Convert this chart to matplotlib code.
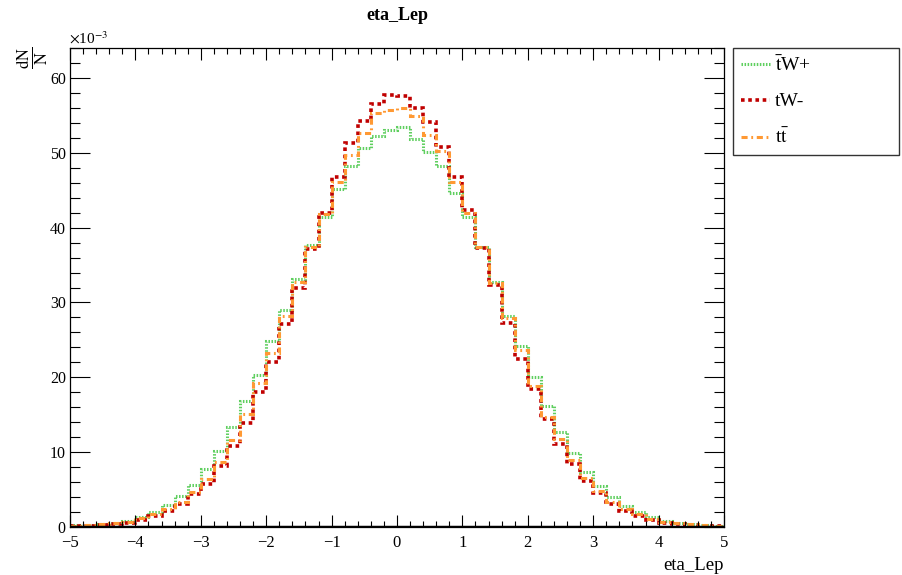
import numpy as np
import matplotlib.pyplot as plt
from matplotlib.ticker import MultipleLocator

plt.rcParams['font.family'] = ['Liberation Serif', 'DejaVu Serif']
plt.rcParams['mathtext.fontset'] = 'stix'

# bin edges of eta_Lep, 50 bins from -5 to 5
edges = np.linspace(-5, 5, 51)

# normalised bin contents, in units of 1e-3
tWplus = [0.25, 0.3, 0.4, 0.6, 0.85, 1.4, 2.0, 2.9, 4.1, 5.6,
          7.8, 10.2, 13.3, 16.8, 20.3, 24.8, 29.0, 33.2, 37.7, 41.4,
          45.2, 48.3, 50.6, 52.3, 53.1, 53.5, 51.8, 50.1, 48.3, 44.6,
          41.4, 37.4, 32.8, 28.2, 24.2, 20.0, 16.2, 12.7, 9.85, 7.3,
          5.5, 4.0, 2.85, 2.0, 1.4, 0.8, 0.6, 0.4, 0.3, 0.2]
tWminus = [0.15, 0.2, 0.3, 0.4, 0.6, 1.0, 1.5, 2.1, 3.1, 4.4,
           5.8, 8.2, 10.8, 13.9, 18.0, 22.1, 27.1, 31.9, 37.1, 42.0,
           46.8, 51.3, 54.3, 56.5, 57.7, 57.6, 56.0, 54.1, 50.8, 46.8,
           42.3, 37.3, 32.4, 27.2, 22.5, 18.4, 14.4, 11.1, 8.4, 6.2,
           4.5, 3.1, 2.1, 1.5, 0.93, 0.6, 0.45, 0.3, 0.2, 0.15]
ttbar = [0.2, 0.25, 0.35, 0.5, 0.7, 1.2, 1.75, 2.4, 3.4, 4.7,
         6.4, 8.7, 11.6, 15.1, 19.2, 23.2, 28.2, 32.8, 37.4, 41.8,
         46.1, 49.7, 52.7, 55.3, 55.7, 56.0, 54.9, 52.4, 50.2, 46.1,
         41.9, 37.4, 32.6, 27.9, 23.7, 18.8, 14.7, 11.7, 9.0, 6.6,
         4.8, 3.4, 2.4, 1.7, 1.1, 0.7, 0.5, 0.35, 0.25, 0.2]

labels = [r'$\bar{\mathrm{t}}$W+', 'tW-', r't$\bar{\mathrm{t}}$']

W, H = 903, 575
fig = plt.figure(figsize=(W / 100, H / 100), dpi=100)
ax = fig.add_axes([70 / W, 1 - 527 / H, 654 / W, 479 / H])

h1 = ax.stairs(tWplus, edges, color='#5fcf5f', lw=2.2, linestyle=(0, (0.5, 0.5)), baseline=None)
h2 = ax.stairs(tWminus, edges, color='#c00000', lw=2.6, linestyle=(0, (1, 1)), baseline=None)
h3 = ax.stairs(ttbar, edges, color='#ff9933', lw=2.2, linestyle=(0, (2, 1.2, 0.6, 1.2)), baseline=None)
ax.axhline(0, color='black', lw=2.5, zorder=5)

ax.set_xlim(-5, 5)
ax.set_ylim(0, 64)
ax.xaxis.set_major_locator(MultipleLocator(1))
ax.xaxis.set_minor_locator(MultipleLocator(0.2))
ax.yaxis.set_major_locator(MultipleLocator(10))
ax.yaxis.set_minor_locator(MultipleLocator(2))
ax.tick_params(which='both', direction='in', top=True, right=True, width=0.8)
ax.tick_params(axis='x', which='major', length=8.6, pad=6, labelsize=12)
ax.tick_params(axis='x', which='minor', length=4.3)
ax.tick_params(axis='y', which='major', length=14.4, pad=3, labelsize=11.5)
ax.tick_params(axis='y', which='minor', length=7.2)
for s in ax.spines.values():
    s.set_linewidth(0.9)

fig.text(397 / W, 1 - 16 / H, 'eta_Lep', ha='center', va='center', fontsize=13, fontweight='bold')
fig.text(69 / W, 1 - 47 / H, r'$\times$10$^{-3}$', ha='left', va='bottom', fontsize=11)
fig.text(33 / W, 1 - 58 / H, r'$\frac{\mathrm{dN}}{\mathrm{N}}$', rotation=90, ha='center', va='center', fontsize=17)
fig.text(724 / W, 1 - 565 / H, 'eta_Lep', ha='right', va='center', fontsize=13.5)

leg = fig.legend([h1, h2, h3], labels, loc='upper left',
                 bbox_to_anchor=(733 / W, 1 - 153 / H, 166 / W, 105 / H), mode='expand',
                 fontsize=14, frameon=True, fancybox=False, edgecolor='black',
                 handlelength=1.5, handletextpad=0.25, borderpad=0.4, labelspacing=0.9,
                 borderaxespad=0)
leg.get_frame().set_linewidth(1)

fig.savefig('out.png', dpi=100)
